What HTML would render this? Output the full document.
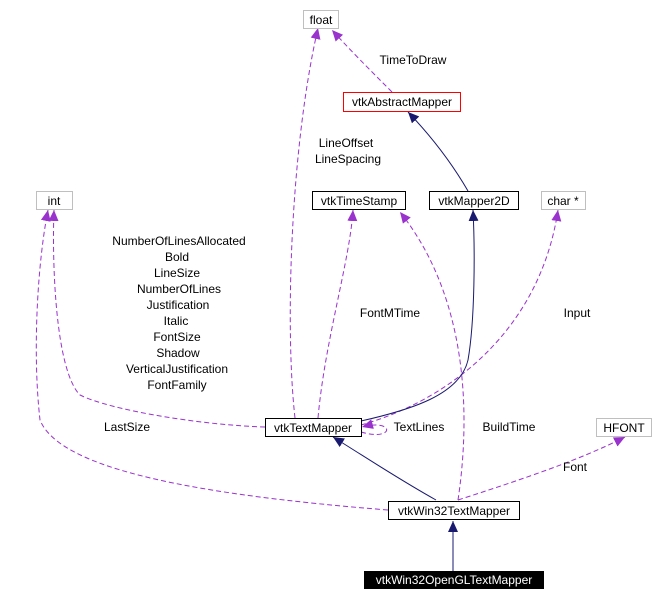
<!DOCTYPE html>
<html><head><style>
body{margin:0;background:#fff;}
svg text{font-family:"Liberation Sans",sans-serif;font-size:12px;fill:#000;}
</style></head><body>
<svg width="664" height="602" viewBox="0 0 664 602" xmlns="http://www.w3.org/2000/svg">
<defs>
<marker id="pa" markerWidth="12" markerHeight="10" refX="11" refY="5" orient="auto" markerUnits="userSpaceOnUse"><path d="M0,0 L11,5 L0,10 Z" fill="#9a32cd"/></marker>
<marker id="na" markerWidth="12" markerHeight="10" refX="11" refY="5" orient="auto" markerUnits="userSpaceOnUse"><path d="M0,0 L11,5 L0,10 Z" fill="#191970"/></marker>
</defs>
<g fill="none" stroke-width="1">
<g stroke="#9a32cd" stroke-dasharray="5,3" marker-end="url(#pa)">
<path d="M295,418 C285,330 290,150 318,28"/>
<path d="M392,92 C370,70 350,50 332,30"/>
<path d="M318,418 C325,340 350,260 353,210"/>
<path d="M265,427 C200,425 110,410 80,395 C55,370 52,260 54,210"/>
<path d="M388,510 C200,495 60,470 40,420 C32,350 38,260 48,210"/>
<path d="M361,425 C450,400 540,330 558,210"/>
<path d="M458,500 C470,420 470,300 400,212"/>
<path d="M458,500 C520,480 580,460 625,437"/>
<path d="M361,432 C395,442 395,418 362,427"/>
</g>
<g stroke="#191970" marker-end="url(#na)">
<path d="M468,191 C450,160 430,135 408,112"/>
<path d="M361,421 C410,410 460,395 468,360 C475,320 475,250 473,210"/>
<path d="M436,500 C400,480 370,460 333,437"/>
<path d="M453,571 L453,521"/>
</g>
</g>
<rect x="303.5" y="10.5" width="35" height="18" fill="#fff" stroke="#bfbfbf"/><text x="321" y="24" text-anchor="middle">float</text>
<rect x="343.5" y="92.5" width="117" height="19" fill="#fff" stroke="#ff0000"/><text x="402" y="106" text-anchor="middle">vtkAbstractMapper</text>
<rect x="36.5" y="191.5" width="36" height="18" fill="#fff" stroke="#bfbfbf"/><text x="54" y="205" text-anchor="middle">int</text>
<rect x="312.5" y="191.5" width="93" height="18" fill="#fff" stroke="#000"/><text x="359" y="205" text-anchor="middle">vtkTimeStamp</text>
<rect x="429.5" y="191.5" width="89" height="18" fill="#fff" stroke="#000"/><text x="474" y="205" text-anchor="middle">vtkMapper2D</text>
<rect x="541.5" y="191.5" width="44" height="18" fill="#fff" stroke="#bfbfbf"/><text x="563" y="205" text-anchor="middle">char *</text>
<rect x="265.5" y="418.5" width="96" height="18" fill="#fff" stroke="#000"/><text x="313" y="432" text-anchor="middle">vtkTextMapper</text>
<rect x="596.5" y="418.5" width="55" height="18" fill="#fff" stroke="#bfbfbf"/><text x="624" y="432" text-anchor="middle">HFONT</text>
<rect x="388.5" y="501.5" width="131" height="18" fill="#fff" stroke="#000"/><text x="454" y="515" text-anchor="middle">vtkWin32TextMapper</text>
<rect x="364" y="571" width="180" height="18" fill="#000"/><text x="454" y="584" text-anchor="middle" style="fill:#fff">vtkWin32OpenGLTextMapper</text>
<text x="413" y="64" text-anchor="middle">TimeToDraw</text>
<text x="346" y="147" text-anchor="middle">LineOffset</text>
<text x="348" y="163" text-anchor="middle">LineSpacing</text>
<g text-anchor="middle">
<text x="179" y="245">NumberOfLinesAllocated</text>
<text x="177" y="261">Bold</text>
<text x="177" y="277">LineSize</text>
<text x="179" y="293">NumberOfLines</text>
<text x="178" y="309">Justification</text>
<text x="176" y="325">Italic</text>
<text x="177" y="341">FontSize</text>
<text x="178" y="357">Shadow</text>
<text x="177" y="373">VerticalJustification</text>
<text x="177" y="389">FontFamily</text>
</g>
<text x="390" y="317" text-anchor="middle">FontMTime</text>
<text x="577" y="317" text-anchor="middle">Input</text>
<text x="127" y="431" text-anchor="middle">LastSize</text>
<text x="419" y="431" text-anchor="middle">TextLines</text>
<text x="509" y="431" text-anchor="middle">BuildTime</text>
<text x="575" y="471" text-anchor="middle">Font</text>
</svg>
</body></html>
